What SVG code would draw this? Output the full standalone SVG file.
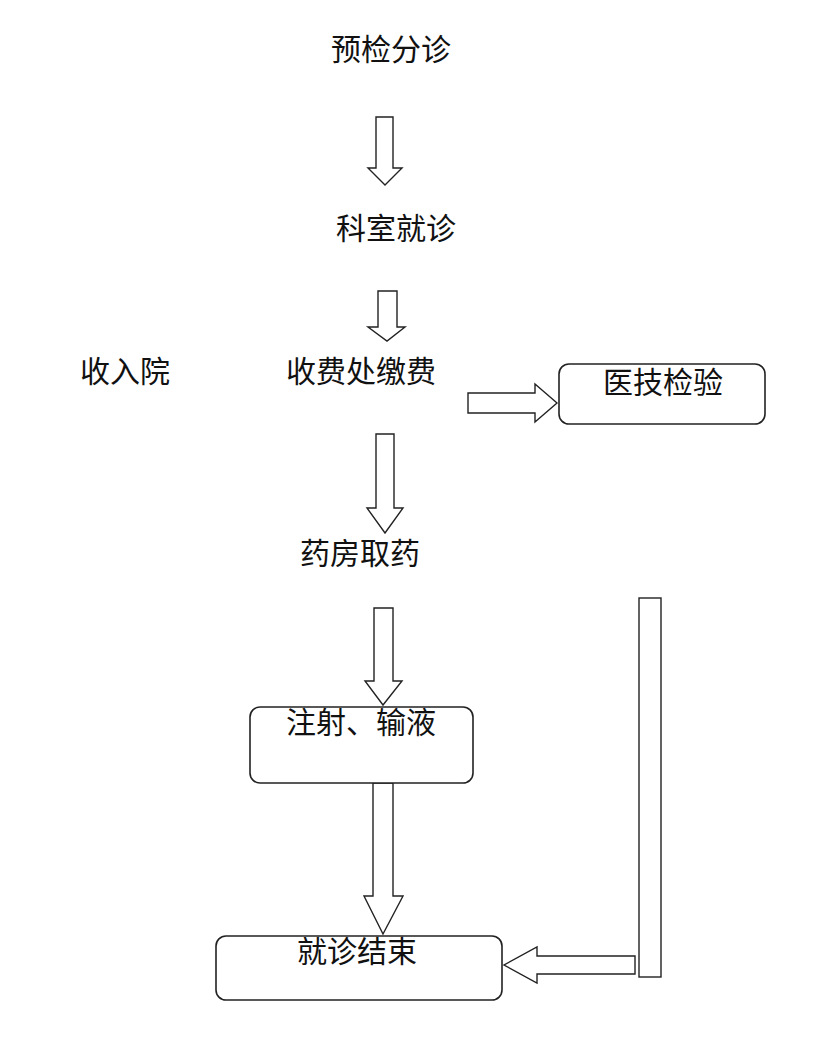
<svg xmlns="http://www.w3.org/2000/svg" width="828" height="1046" viewBox="0 0 828 1046">
<style>
.t{font-family:"Noto Sans CJK SC","Noto Sans",sans-serif;font-size:30px;fill:#111}
.b{fill:#fff;stroke:#222;stroke-width:1.6}
.a{fill:#fff;stroke:#222;stroke-width:1.4;stroke-linejoin:miter}
</style>
<rect width="828" height="1046" fill="#fff"/>
<g id="connectors">
<polygon class="a" points="376,117 393,117 393,168 402,168 385,185 368,168 376,168"/>
<polygon class="a" points="378,291 397,291 397,327 405,327 387,341 368,327 378,327"/>
<polygon class="a" points="376,434 394,434 394,508 403,508 385,533 367,508 376,508"/>
<polygon class="a" points="374,608 393,608 393,681 402,681 383,705 365,681 374,681"/>
<polygon class="a" points="373,783 393,783 393,896 403,896 383,934 364,896 373,896"/>
<polygon class="a" points="468,393 535,393 535,384 557,403 535,422 535,413 468,413"/>
<polygon class="a" points="635,956 537,956 537,947 504,965 537,983 537,974 635,974"/>
<rect class="a" x="639" y="598" width="22" height="379"/>
</g>
<g id="n1"><text class="t" x="331" y="60">预检分诊</text></g>
<g id="n2"><text class="t" x="336" y="239">科室就诊</text></g>
<g id="n3"><text class="t" x="80" y="382">收入院</text></g>
<g id="n4"><text class="t" x="286" y="382">收费处缴费</text></g>
<g id="n5"><rect class="b" x="559" y="364" width="206" height="60" rx="10"/><text class="t" x="603" y="393">医技检验</text></g>
<g id="n6"><text class="t" x="300" y="564">药房取药</text></g>
<g id="n7"><rect class="b" x="250" y="707" width="223" height="76" rx="10"/><text class="t" x="286" y="733">注射、输液</text></g>
<g id="n8"><rect class="b" x="216" y="936" width="286" height="64" rx="10"/><text class="t" x="297" y="962">就诊结束</text></g>
</svg>
